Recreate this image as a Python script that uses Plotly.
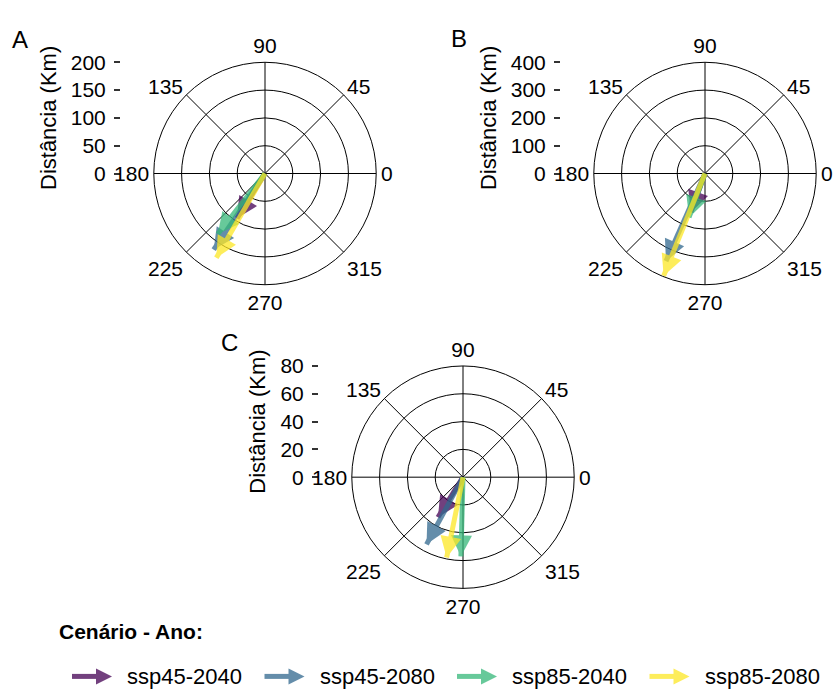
import plotly.graph_objects as go

W, H = 838, 699

# ---------------- data ----------------
SCENARIOS = ["ssp45-2040", "ssp45-2080", "ssp85-2040", "ssp85-2080"]
COLORS = ["#440154", "#31688E", "#35B779", "#FDE725"]

PANELS = ["A", "B", "C"]
ANGLE_A = [238, 236, 232, 240]
DIST_A = [95, 165, 138, 175]
ANGLE_B = [250, 246, 250, 248]
DIST_B = [148, 345, 168, 397]
ANGLE_C = [238, 241.5, 268.5, 258.5]
DIST_C = [34, 55, 57, 59]

RTICKS_A = [0, 50, 100, 150, 200]
RTICKS_B = [0, 100, 200, 300, 400]
RTICKS_C = [0, 20, 40, 60, 80]

ANGLE_TICKS = [0, 45, 90, 135, 180, 225, 270, 315]
ANGLE_LABELS = ["0", "45", "90", "135", "180", "225", "270", "315"]

# ---------------- layout geometry (pixels) ----------------
FONT = "Liberation Sans, Arial, sans-serif"
R_PX = 115
CENTERS = [(265, 167), (705, 167), (463, 481)]
YAXIS_X = [120, 560, 318]
LETTER_POS = [(20, 28), (459, 27), (230, 342)]
ALPHA = 0.75
LINE_W = 5
HEAD = 21


def px(x):
    return x / W


def py(y):
    return 1 - y / H


angles = [ANGLE_A, ANGLE_B, ANGLE_C]
dists = [DIST_A, DIST_B, DIST_C]
rticks = [RTICKS_A, RTICKS_B, RTICKS_C]

fig = go.Figure()
layout = dict(
    width=W, height=H,
    margin=dict(l=0, r=0, t=0, b=0),
    paper_bgcolor="white", plot_bgcolor="rgba(0,0,0,0)",
    showlegend=False,
    font=dict(family=FONT, size=21, color="black"),
    annotations=[],
)

for p in range(3):
    cx, cy = CENTERS[p]
    pname = "polar" if p == 0 else f"polar{p + 1}"
    rmax = rticks[p][-1]
    layout[pname] = dict(
        domain=dict(x=[px(cx - R_PX), px(cx + R_PX)], y=[py(cy + R_PX), py(cy - R_PX)]),
        bgcolor="rgba(0,0,0,0)",
        angularaxis=dict(
            rotation=0, direction="counterclockwise",
            tickmode="array", tickvals=ANGLE_TICKS, ticktext=ANGLE_LABELS,
            showline=True, linecolor="black", linewidth=1,
            showgrid=True, gridcolor="black", gridwidth=1,
            ticks="", tickfont=dict(size=21, color="black", family=FONT),
        ),
        radialaxis=dict(
            range=[0, rmax], tickmode="array", tickvals=rticks[p][1:],
            showticklabels=False, ticks="", showline=False,
            showgrid=True, gridcolor="black", gridwidth=1,
        ),
    )
    for i, name in enumerate(SCENARIOS):
        a = angles[p][i]
        d = dists[p][i]
        fig.add_trace(go.Scatterpolar(
            r=[0, d], theta=[a, a], mode="lines+markers",
            subplot=pname, name=name, opacity=ALPHA,
            line=dict(color=COLORS[i], width=LINE_W, backoff=12),
            marker=dict(symbol=["circle", "arrow-up"], size=[0, HEAD], opacity=1,
                        angle=[0, 90 - a], color=COLORS[i], line=dict(width=0)),
            hoverinfo="skip", showlegend=False,
        ))

    # left-hand distance axis
    xa = "xaxis" if p == 0 else f"xaxis{p + 1}"
    ya = "yaxis" if p == 0 else f"yaxis{p + 1}"
    layout[xa] = dict(visible=False, domain=[px(YAXIS_X[p]), px(YAXIS_X[p] + 1)], range=[0, 1],
                      anchor="y" if p == 0 else f"y{p + 1}")
    layout[ya] = dict(
        domain=[py(cy), py(cy - R_PX)], range=[0, rmax],
        anchor="free", position=px(YAXIS_X[p]),
        tickmode="array", tickvals=rticks[p],
        ticks="outside", ticklen=6, tickwidth=1.5, tickcolor="#333333",
        ticklabelstandoff=4,
        showline=False, showgrid=False, zeroline=False,
        tickfont=dict(size=21, color="black", family=FONT),
        title=dict(text="Distância (Km)", font=dict(size=22, color="black", family=FONT),
                   standoff=7),
        fixedrange=True,
    )
    fig.add_trace(go.Scatter(x=[None], y=[None], xaxis="x" if p == 0 else f"x{p + 1}",
                             yaxis="y" if p == 0 else f"y{p + 1}", showlegend=False,
                             hoverinfo="skip"))

    lx, ly = LETTER_POS[p]
    layout["annotations"].append(dict(
        text=PANELS[p], x=px(lx), y=py(ly), xref="paper", yref="paper",
        showarrow=False, font=dict(size=24, color="black", family=FONT),
        xanchor="center", yanchor="middle"))

# ---------------- custom legend ----------------
LEG_Y = 687
LEG_X0 = 72
LEG_STEP = 192.5
LEG_KEY_LEN = 40
LEG_TEXT_GAP = 53

layout["xaxis4"] = dict(visible=False, domain=[0, 1], range=[0, W], anchor="y4", fixedrange=True)
layout["yaxis4"] = dict(visible=False, domain=[py(LEG_Y + 12), py(LEG_Y - 12)], range=[-1, 1],
                        anchor="x4", fixedrange=True)
for i, name in enumerate(SCENARIOS):
    x0 = LEG_X0 + LEG_STEP * i
    fig.add_trace(go.Scatter(
        x=[x0, x0 + LEG_KEY_LEN], y=[0, 0], xaxis="x4", yaxis="y4",
        mode="lines+markers", opacity=ALPHA,
        line=dict(color=COLORS[i], width=LINE_W, backoff=12),
        marker=dict(symbol=["circle", "arrow-right"], size=[0, 16], opacity=1,
                    color=COLORS[i], line=dict(width=0)),
        hoverinfo="skip", showlegend=False,
    ))
    layout["annotations"].append(dict(
        text=name, x=x0 + LEG_TEXT_GAP, y=0, xref="x4", yref="y4",
        showarrow=False, xanchor="left", yanchor="middle",
        font=dict(size=22, color="black", family=FONT)))

layout["annotations"].append(dict(
    text="<b>Cenário - Ano:</b>", x=px(57), y=py(641), xref="paper", yref="paper",
    showarrow=False, xanchor="left", yanchor="middle",
    font=dict(size=21, color="black", family=FONT)))

fig.update_layout(**layout)
fig.write_html("out.html")
